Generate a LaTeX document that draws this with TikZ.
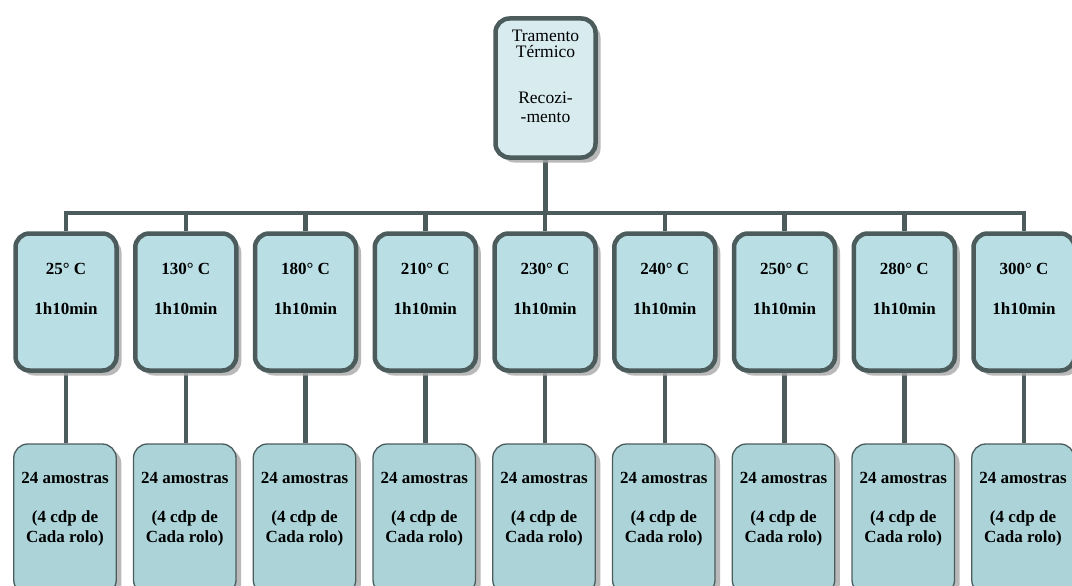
\documentclass[tikz,border=0pt]{standalone}
\usepackage{fontspec}
\setmainfont{Liberation Serif}
\usetikzlibrary{shadows,backgrounds}
\definecolor{bord}{HTML}{4C5C5C}
\definecolor{topfill}{HTML}{D8ECF0}
\definecolor{midfill}{HTML}{B9DFE4}
\definecolor{botfill}{HTML}{ABD3D8}
\definecolor{shad}{HTML}{A8A8A8}
\tikzset{
  shd/.style={drop shadow={shadow xshift=5pt,shadow yshift=-5pt,fill=shad,opacity=0.8}},
  topbox/.style={shd,draw=bord,line width=4.5pt,fill=topfill,rounded corners=14pt,
    minimum width=100pt,minimum height=139pt,inner sep=0pt},
  midbox/.style={shd,draw=bord,line width=4.5pt,fill=midfill,rounded corners=14pt,
    minimum width=101pt,minimum height=137pt,inner sep=0pt},
  botbox/.style={shd,draw=bord,line width=1.3pt,fill=botfill,rounded corners=14pt,
    minimum width=102.5pt,minimum height=150pt,inner sep=0pt},
  conn/.style={draw=bord,line width=4.5pt},
  ttxt/.style={anchor=base,inner sep=0pt,font=\fontsize{17.5}{20}\selectfont},
  btxt/.style={anchor=base,inner sep=0pt,font=\fontsize{17}{20}\selectfont\bfseries},
}
\begin{document}
\begin{tikzpicture}[x=1pt,y=-1pt]
\useasboundingbox (0,0) rectangle (1072,586);
\clip (0,0) rectangle (1072,586);
\node[topbox] (top) at (545.5,88) {};
\node[ttxt] (t1) at (545.5,42) {Tramento};
\node[ttxt] (t2) at (545.5,58) {Térmico};
\node[ttxt] (t3) at (545.5,103) {Recozi-};
\node[ttxt] (t4) at (545.5,122) {-mento};
\coordinate (bus) at (545.5,213);
\foreach \t [count=\i from 0] in {25,130,180,210,230,240,250,280,300} {
  \pgfmathsetmacro{\cx}{66+\i*119.75}
  \node[midbox] (m\i) at (\cx,302) {};
  \node[btxt] (mt\i) at (\cx,274) {\t° C};
  \node[btxt] (md\i) at (\cx,314) {1h10min};
  \node[botbox] (b\i) at (\cx-1,519) {};
  \node[btxt] (ba\i) at (\cx-1,483) {24 amostras};
  \node[btxt] (bb\i) at (\cx-1,522) {(4 cdp de};
  \node[btxt] (bc\i) at (\cx-1,542) {Cada rolo)};
}
\begin{scope}[on background layer]
  \draw[conn] (top.south) -- (bus);
  \foreach \i in {0,...,8} {
    \draw[conn] (bus) -| (m\i.north);
    \draw[conn] (m\i.south) -- (m\i.south |- b\i.north);
  }
\end{scope}
\end{tikzpicture}
\end{document}
